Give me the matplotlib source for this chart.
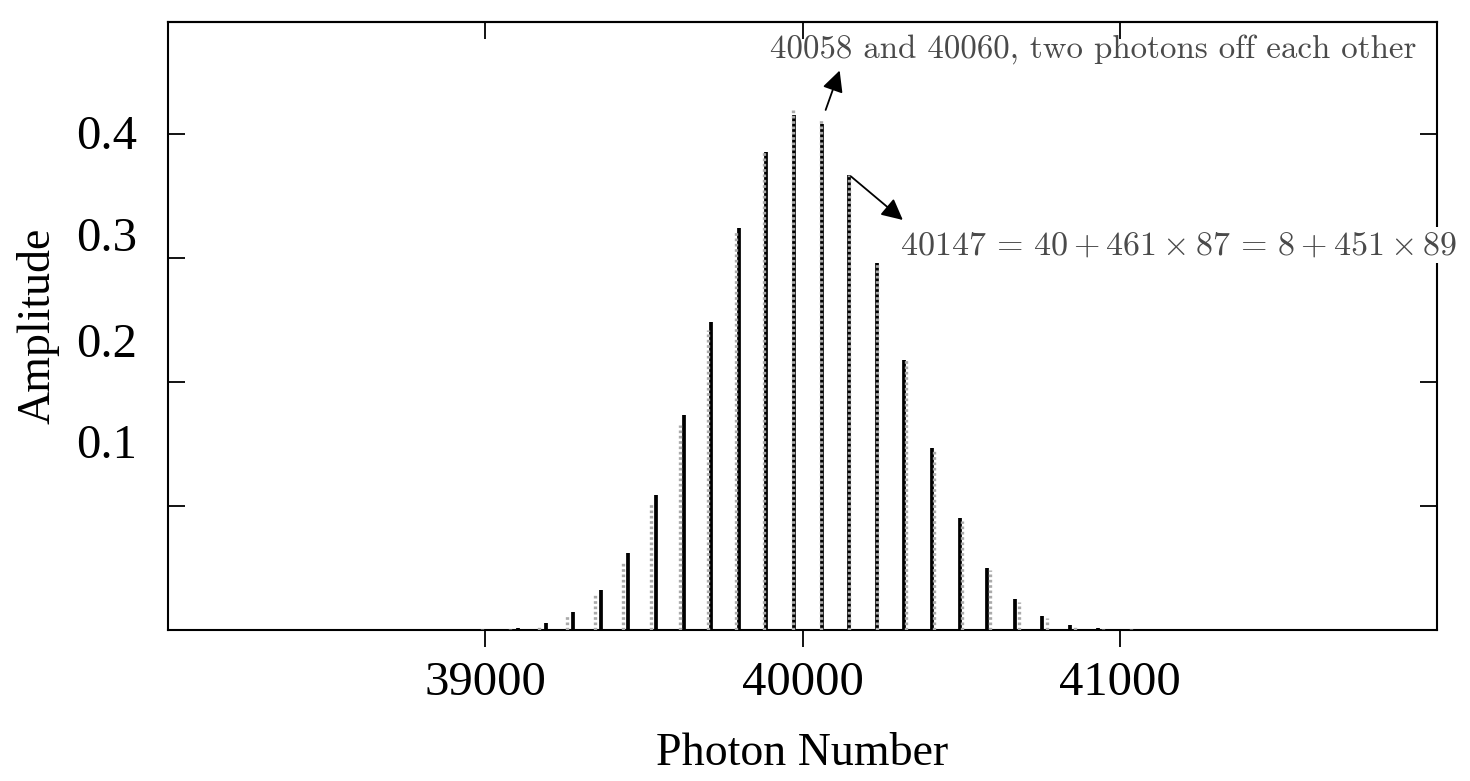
import matplotlib
matplotlib.use("Agg")
import matplotlib.pyplot as plt

# photon numbers spaced by 87 (black) and 89 (grey), both through 40147
black_n = [39016, 39103, 39190, 39277, 39364, 39451, 39538, 39625, 39712, 39799,
           39886, 39973, 40060, 40147, 40234, 40321, 40408, 40495, 40582, 40669,
           40756, 40843, 40930, 41017]
black_amp = [0.001, 0.002, 0.0055, 0.0145, 0.032, 0.062, 0.109, 0.173, 0.248, 0.324,
             0.385, 0.415, 0.408, 0.367, 0.296, 0.218, 0.147, 0.090, 0.050, 0.025,
             0.011, 0.004, 0.0015, 0.0007]

grey_n = [38990, 39079, 39168, 39257, 39346, 39435, 39524, 39613, 39702, 39791,
          39880, 39969, 40058, 40147, 40236, 40325, 40414, 40503, 40592, 40681,
          40770, 40859, 40948, 41037]
grey_amp = [0.0005, 0.001, 0.004, 0.012, 0.028, 0.056, 0.102, 0.165, 0.242, 0.322,
            0.386, 0.419, 0.413, 0.367, 0.296, 0.218, 0.146, 0.088, 0.048, 0.0225,
            0.0095, 0.003, 0.001, 0.0005]

x_ticks = [39000, 40000, 41000]
y_ticks = [0.1, 0.2, 0.3, 0.4]
# the labels sit a little off their tick marks in the original
y_label_pos = [0.152, 0.234, 0.319, 0.401]
y_labels = ["0.1", "0.2", "0.3", "0.4"]

plt.rcParams['mathtext.fontset'] = 'cm'
serif = ['Liberation Serif', 'DejaVu Serif']

fig = plt.figure(figsize=(14.7, 7.81), dpi=100)
ax = fig.add_axes([168 / 1470, 151 / 781, 1269 / 1470, 608 / 781])

ax.vlines(black_n, 0, black_amp, colors='black', linewidth=2.7, zorder=2)
ax.vlines(grey_n, 0, grey_amp, colors='#aaaaaa', linewidth=2.4,
          linestyles=(0, (0.8, 0.8)), zorder=3)

ax.set_xlim(38000, 42000)
ax.set_ylim(0, 0.49)

for s in ax.spines.values():
    s.set_linewidth(1.5)

ax.set_xticks(x_ticks)
ax.set_xticklabels([str(t) for t in x_ticks], family=serif, fontsize=35)
ax.tick_params(axis='x', direction='out', length=12, width=1.3, pad=10)

ax.set_yticks(y_label_pos)
ax.set_yticklabels(y_labels, family=serif, fontsize=35)
ax.set_yticks(y_ticks, minor=True)
ax.tick_params(axis='y', which='major', length=0, pad=22)
ax.tick_params(axis='y', which='minor', direction='in', length=12, width=1.3,
               left=True, right=True)

top = ax.secondary_xaxis('top')
top.set_xticks(x_ticks)
top.set_xticklabels([])
top.tick_params(direction='in', length=12, width=1.3)
top.spines['top'].set_linewidth(1.5)

ax.set_xlabel("Photon Number", family=serif, fontsize=33, labelpad=20)
ax.set_ylabel("Amplitude", family=serif, fontsize=33, labelpad=12)

ax.text(39896, 0.468, "40058 and 40060, two photons off each other",
        fontname='cmr10', fontsize=23.7, color='#4a4a4a', va='center', ha='left')
ax.annotate("", xy=(40120, 0.453), xytext=(40070, 0.417),
            arrowprops=dict(arrowstyle='-|>', color='black', lw=1.3, mutation_scale=32))

ax.text(40307, 0.310, r"$40147\,=\,40 + 461 \times 87\,=\,8 + 451 \times 89$",
        fontsize=24.5, color='#4a4a4a', va='center', ha='left', clip_on=False, zorder=5,
        bbox=dict(facecolor='white', edgecolor='none', pad=1))
ax.annotate("", xy=(40323, 0.329), xytext=(40146, 0.367),
            arrowprops=dict(arrowstyle='-|>', color='black', lw=1.3, mutation_scale=32))

fig.savefig("out.png", dpi=100)
